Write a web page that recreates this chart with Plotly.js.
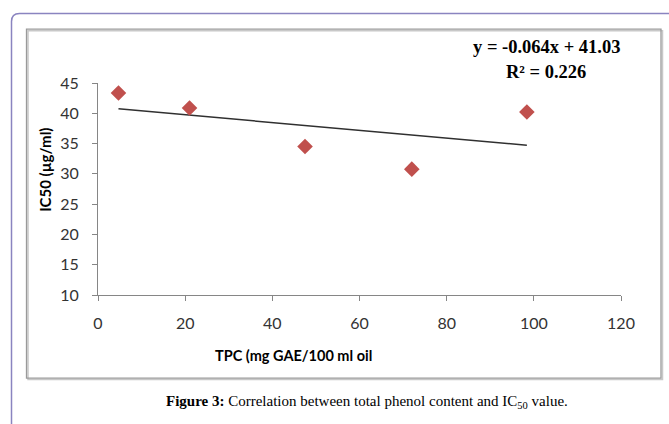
<!DOCTYPE html>
<html>
<head>
<meta charset="utf-8">
<script src="https://cdn.plot.ly/plotly-3.0.1.min.js"></script>
<style>
html,body{margin:0;padding:0;background:#fff;}
#chart{width:669px;height:424px;}
</style>
</head>
<body>
<div id="chart"></div>
<script>
// Data
const tpc = [4.7, 21.0, 47.5, 72.0, 98.4];      // TPC (mg GAE/100 ml oil)
const ic50 = [43.35, 40.87, 34.52, 30.78, 40.2]; // IC50 (µg/ml)
const trendX = [4.7, 98.4];
const trendY = [40.73, 34.73];
const xTicks = [0, 20, 40, 60, 80, 100, 120];
const yTicks = [10, 15, 20, 25, 30, 35, 40, 45];
const equationText = "y = -0.064x + 41.03";
const r2Text = "R² = 0.226";
const xTitle = "TPC (mg GAE/100 ml oil";
const yTitle = "IC50 (µg/ml)";
const captionText = "<b>Figure 3:</b> Correlation between total phenol content and IC<sub>50</sub> value.";

// pixel -> paper helpers (plot area 98..621 x, 83.3..295 y)
const L = 98, R = 621, T = 83.3, B = 295;
const px = p => (p - L) / (R - L);
const py = p => (B - p) / (B - T);

const traces = [
  {
    x: trendX, y: trendY, type: 'scatter', mode: 'lines',
    line: {color: '#303030', width: 1.5}, hoverinfo: 'skip', showlegend: false
  },
  {
    x: tpc, y: ic50, type: 'scatter', mode: 'markers',
    marker: {symbol: 'diamond', size: 12, color: '#c0504d'}, showlegend: false
  }
];

const axisCommon = {
  showgrid: false, zeroline: false, showline: true,
  linecolor: '#868686', linewidth: 1,
  ticks: 'outside', ticklen: 5, tickcolor: '#868686', tickwidth: 1,
  tickfont: {family: 'Lato, sans-serif', size: 16, color: '#333333'},
  fixedrange: true
};

const layout = {
  width: 669, height: 424,
  margin: {l: L, r: 669 - R, t: T, b: 424 - B},
  paper_bgcolor: '#ffffff', plot_bgcolor: '#ffffff',
  showlegend: false,
  xaxis: Object.assign({}, axisCommon, {
    range: [0, 120], tickvals: xTicks, ticktext: xTicks.map(String),
    ticklabelstandoff: 9
  }),
  yaxis: Object.assign({}, axisCommon, {
    range: [10, 45], tickvals: yTicks, ticktext: yTicks.map(String),
    ticklabelstandoff: 10
  }),
  shapes: [
    // outer purple frame with rounded corner
    {type: 'path', xref: 'paper', yref: 'paper',
     path: `M ${px(11.5)},${py(430)} L ${px(11.5)},${py(22)} Q ${px(11.5)},${py(14)} ${px(19.5)},${py(14)} L ${px(680)},${py(14)}`,
     line: {color: '#8a84c0', width: 1.5}},
    // inner chart box shadow
    {type: 'rect', xref: 'paper', yref: 'paper',
     x0: px(28), x1: px(662.5), y0: py(379.5), y1: py(31),
     line: {color: '#c8c8c8', width: 1.5}},
    // inner chart box
    {type: 'rect', xref: 'paper', yref: 'paper',
     x0: px(26.5), x1: px(661), y0: py(378), y1: py(29.5),
     line: {color: '#9a9a9a', width: 1.3}}
  ],
  annotations: [
    {xref: 'paper', yref: 'paper', x: px(547), y: py(47), text: '<b>' + equationText + '</b>',
     showarrow: false, xanchor: 'center', yanchor: 'middle',
     font: {family: '"Liberation Serif", serif', size: 18.5, color: '#000'}},
    {xref: 'paper', yref: 'paper', x: px(546), y: py(72), text: '<b>' + r2Text + '</b>',
     showarrow: false, xanchor: 'center', yanchor: 'middle',
     font: {family: '"Liberation Serif", serif', size: 18.5, color: '#000'}},
    {xref: 'paper', yref: 'paper', x: px(293), y: py(355), text: '<b>' + xTitle + '</b>',
     showarrow: false, xanchor: 'center', yanchor: 'middle',
     font: {family: 'Lato, sans-serif', size: 14.5, color: '#000'}},
    {xref: 'paper', yref: 'paper', x: px(45), y: py(170), text: '<b>' + yTitle + '</b>',
     textangle: -90, showarrow: false, xanchor: 'center', yanchor: 'middle',
     font: {family: 'Lato, sans-serif', size: 15, color: '#000'}},
    {xref: 'paper', yref: 'paper', x: px(367), y: py(402), text: captionText,
     showarrow: false, xanchor: 'center', yanchor: 'middle',
     font: {family: '"Liberation Serif", serif', size: 15, color: '#000'}}
  ]
};

Plotly.newPlot('chart', traces, layout, {staticPlot: true, displayModeBar: false});
</script>
</body>
</html>
